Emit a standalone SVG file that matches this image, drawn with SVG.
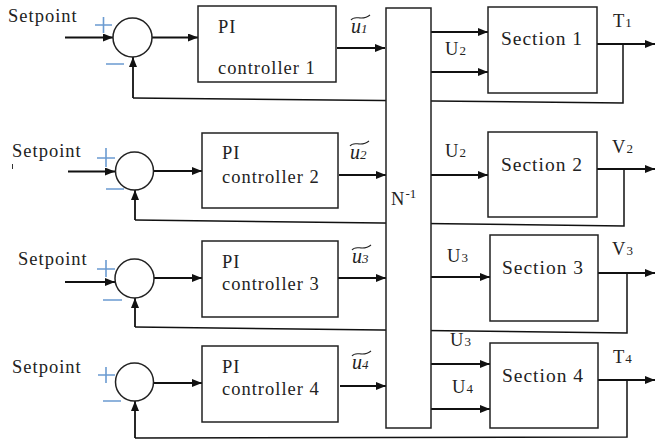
<svg xmlns="http://www.w3.org/2000/svg" width="656" height="441" viewBox="0 0 656 441" font-family="Liberation Serif, serif">
<defs>
<marker id="ah" markerWidth="11" markerHeight="9" refX="10" refY="4" orient="auto" markerUnits="userSpaceOnUse"><path d="M0,0 L10,4 L0,8 z" fill="#111"/></marker>
<style>
.ln{fill:none;stroke:#111;stroke-width:1.5}
.ar{fill:none;stroke:#111;stroke-width:1.8;marker-end:url(#ah)}
.bx{fill:#fff;stroke:#222;stroke-width:1.5}
.sg{fill:none;stroke:#6b9bd1;stroke-width:1.6}
.t{font-size:18.5px;letter-spacing:1px;fill:#222}
.sec{font-size:19.5px;letter-spacing:1px;fill:#222;text-anchor:middle}
.u{font-size:20px;font-style:italic;fill:#222}
.sub{font-size:13px;letter-spacing:0}
.tl{fill:none;stroke:#222;stroke-width:1.1}
</style>
</defs>
<rect width="656" height="441" fill="#fff"/>

<g id="connectors">
<line class="ar" x1="65" y1="37.5" x2="113" y2="37.5"/>
<line class="ar" x1="152" y1="37.5" x2="198" y2="37.5"/>
<line class="ar" x1="337" y1="48" x2="385" y2="48"/>
<line class="ar" x1="431" y1="32" x2="488" y2="32"/>
<line class="ar" x1="431" y1="72" x2="488" y2="72"/>
<line class="ar" x1="597" y1="44" x2="655" y2="44"/>
<polyline class="ln" points="623,44 623,103 133,98"/>
<line class="ar" x1="133" y1="98" x2="133" y2="57"/>
<line class="ar" x1="68" y1="171.5" x2="115" y2="171.5"/>
<line class="ar" x1="154" y1="171" x2="202" y2="171"/>
<line class="ar" x1="339" y1="175" x2="386" y2="175"/>
<line class="ar" x1="431" y1="175" x2="488" y2="175"/>
<line class="ar" x1="597" y1="169" x2="655" y2="169"/>
<polyline class="ln" points="624,169 624,226 135,220"/>
<line class="ar" x1="135" y1="220" x2="135" y2="190"/>
<line class="ar" x1="65" y1="282" x2="115" y2="282"/>
<line class="ar" x1="154" y1="278" x2="202" y2="278"/>
<line class="ar" x1="338" y1="278" x2="386" y2="278"/>
<line class="ar" x1="431" y1="277" x2="490" y2="277"/>
<line class="ar" x1="598" y1="273" x2="655" y2="273"/>
<polyline class="ln" points="627,273 627,333 135,327"/>
<line class="ar" x1="135" y1="327" x2="135" y2="298"/>
<line class="ar" x1="154" y1="383" x2="202" y2="383"/>
<line class="ar" x1="340" y1="386" x2="386" y2="386"/>
<line class="ar" x1="431" y1="364" x2="490" y2="364"/>
<line class="ar" x1="431" y1="409" x2="490" y2="409"/>
<line class="ar" x1="598" y1="380" x2="655" y2="380"/>
<polyline class="ln" points="627,380 627,437 135,438"/>
<line class="ar" x1="135" y1="438" x2="135" y2="401"/>
</g>

<g id="setpoint1"><text class="t" x="8" y="22">Setpoint</text></g>
<g id="setpoint2"><text class="t" x="12" y="157">Setpoint</text><line x1="12.5" y1="164" x2="12.5" y2="169" stroke="#333" stroke-width="1"/></g>
<g id="setpoint3"><text class="t" x="18" y="265">Setpoint</text></g>
<g id="setpoint4"><text class="t" x="12" y="373">Setpoint</text></g>

<g id="sum1"><circle class="bx" cx="132.5" cy="37.5" r="19.5"/><path class="sg" d="M95,25 H112 M103.5,17 V33 M106,64 H124"/></g>
<g id="sum2"><circle class="bx" cx="134.5" cy="171" r="19"/><path class="sg" d="M97,158 H115 M106,148 V167 M106,189 H124"/></g>
<g id="sum3"><circle class="bx" cx="134.5" cy="278.5" r="19.5"/><path class="sg" d="M97,269 H115 M106,260 V277 M103,300 H122"/></g>
<g id="sum4"><circle class="bx" cx="134.5" cy="382" r="19"/><path class="sg" d="M98,375 H115 M106,367 V383 M103,401 H121"/></g>

<g id="pi1"><rect class="bx" x="198" y="6" width="138" height="76"/><text class="t" x="218" y="33">PI</text><text class="t" x="218" y="74">controller 1</text></g>
<g id="pi2"><rect class="bx" x="202" y="133" width="136" height="75"/><text class="t" x="222" y="159">PI</text><text class="t" x="222" y="183">controller 2</text></g>
<g id="pi3"><rect class="bx" x="202" y="241" width="136" height="76"/><text class="t" x="222" y="268">PI</text><text class="t" x="222" y="290">controller 3</text></g>
<g id="pi4"><rect class="bx" x="202" y="346" width="136" height="76"/><text class="t" x="222" y="373">PI</text><text class="t" x="222" y="395">controller 4</text></g>

<g id="u1"><text class="u" x="351" y="33">u<tspan class="sub">1</tspan></text><path class="tl" d="M351,20 C355,14 362,22 370,15"/></g>
<g id="u2"><text class="u" x="350" y="159">u<tspan class="sub">2</tspan></text><path class="tl" d="M350,146 C354,140 361,148 369,141"/></g>
<g id="u3"><text class="u" x="352" y="263">u<tspan class="sub">3</tspan></text><path class="tl" d="M352,250 C356,244 363,252 371,245"/></g>
<g id="u4"><text class="u" x="352" y="369">u<tspan class="sub">4</tspan></text><path class="tl" d="M352,356 C356,350 363,358 371,351"/></g>

<g id="ninv"><rect class="bx" x="386" y="8" width="45" height="420"/><text class="t" x="391" y="205">N<tspan class="sub" dy="-7">-1</tspan></text></g>

<g id="sec1"><rect class="bx" x="488" y="7" width="109" height="86"/><text class="sec" x="542" y="45">Section 1</text></g>
<g id="sec2"><rect class="bx" x="488" y="132" width="109" height="85"/><text class="sec" x="542" y="171">Section 2</text></g>
<g id="sec3"><rect class="bx" x="490" y="235" width="108" height="86"/><text class="sec" x="543" y="274">Section 3</text></g>
<g id="sec4"><rect class="bx" x="490" y="343" width="108" height="85"/><text class="sec" x="543" y="382">Section 4</text></g>

<g id="labels">
<text class="t" x="445" y="55">U<tspan class="sub">2</tspan></text>
<text class="t" x="445" y="157">U<tspan class="sub">2</tspan></text>
<text class="t" x="447" y="262">U<tspan class="sub">3</tspan></text>
<text class="t" x="450" y="346">U<tspan class="sub">3</tspan></text>
<text class="t" x="452" y="393">U<tspan class="sub">4</tspan></text>
<text class="t" x="613" y="27">T<tspan class="sub">1</tspan></text>
<text class="t" x="612" y="153">V<tspan class="sub">2</tspan></text>
<text class="t" x="612" y="255">V<tspan class="sub">3</tspan></text>
<text class="t" x="613" y="363">T<tspan class="sub">4</tspan></text>
</g>
</svg>
